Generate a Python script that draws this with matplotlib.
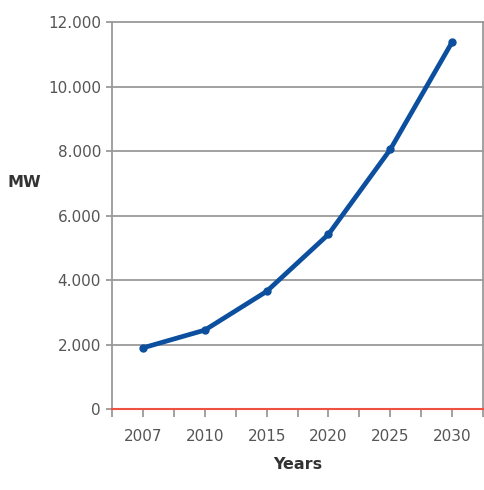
import matplotlib.pyplot as plt
from matplotlib.ticker import FixedLocator, FuncFormatter

# data
years = ['2007', '2010', '2015', '2020', '2025', '2030']
mw = [1900, 2450, 3650, 5420, 8050, 11380]
yticks = [0, 2000, 4000, 6000, 8000, 10000, 12000]

grey = '#9a9a9a'
txt = '#555555'

fig = plt.figure(figsize=(4.85, 4.9), dpi=100)
ax = fig.add_axes([0.231, 0.165, 0.765, 0.79])

x = list(range(len(years)))
ax.plot(x, mw, color='#0b4f9e', lw=3.4, marker='o', ms=5, solid_capstyle='round', zorder=3)

ax.set_xlim(-0.5, len(years) - 0.5)
ax.set_ylim(0, 12000)
ax.set_xticks(x)
ax.set_xticklabels(years)
ax.xaxis.set_minor_locator(FixedLocator([i - 0.5 for i in range(len(years) + 1)]))
ax.set_yticks(yticks)
ax.yaxis.set_major_formatter(FuncFormatter(lambda v, p: '{:,.0f}'.format(v).replace(',', '.')))

for yv in yticks[1:]:
    ax.axhline(yv, color=grey, lw=1.3, zorder=1, clip_on=False)

ax.spines['top'].set_visible(False)
ax.spines['left'].set_color(grey)
ax.spines['left'].set_linewidth(1.3)
ax.spines['right'].set_color(grey)
ax.spines['right'].set_linewidth(1.3)
ax.spines['bottom'].set_color('#f05040')
ax.spines['bottom'].set_linewidth(1.5)

ax.tick_params(axis='x', which='both', direction='out', length=6, width=1.3, color=grey,
               labelsize=11, labelcolor=txt, pad=8)
ax.tick_params(axis='y', direction='out', length=4, width=1.3, color=grey,
               labelsize=11, labelcolor=txt, pad=4)

ax.set_xlabel('Years', fontsize=11.5, fontweight='bold', color='#333333', labelpad=10)
fig.text(0.05, 0.628, 'MW', fontsize=11.5, fontweight='bold', color='#333333', va='center', ha='center')

fig.savefig('out.png', dpi=100)
